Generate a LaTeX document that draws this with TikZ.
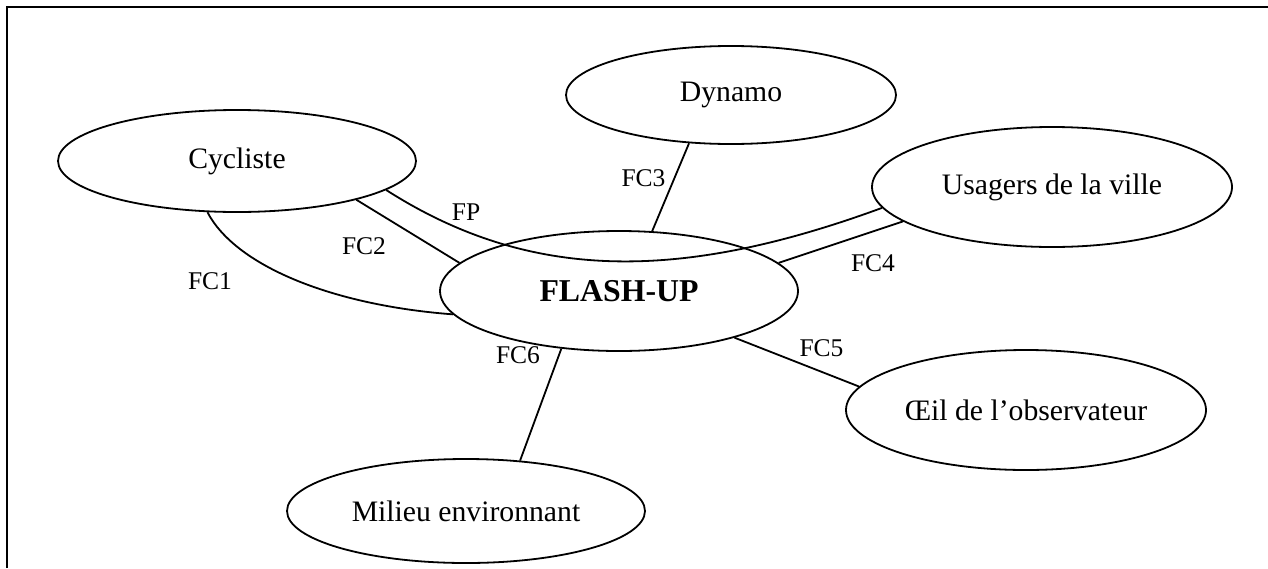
\documentclass[tikz,border=0pt]{standalone}
\usepackage{fontspec}
\setmainfont{Liberation Serif}
\usetikzlibrary{shapes.geometric}
\begin{document}
\begin{tikzpicture}[x=1pt,y=-1pt,
  ell/.style={ellipse, draw, line width=1.8pt, inner sep=0pt, font=\fontsize{29.7}{34}\selectfont},
  lab/.style={inner sep=0pt, font=\fontsize{25.5}{30}\selectfont},
  conn/.style={line width=1.8pt}]
\useasboundingbox (0,0) rectangle (1268,568);
\draw[line width=2pt] (7,568) -- (7,7) -- (1268,7);

\node[ell, minimum width=358pt, minimum height=102pt] (cyc) at (237,161) {Cycliste};
\node[ell, minimum width=330pt, minimum height=98pt] (dyn) at (731,95) {Dynamo};
\node[ell, minimum width=360pt, minimum height=120pt] (usa) at (1052,187) {Usagers de la ville};
\node[ell, minimum width=358pt, minimum height=120pt, font=\fontsize{31.8}{36}\selectfont\bfseries] (fla) at (619,291) {FLASH-UP};
\node[ell, minimum width=360pt, minimum height=120pt] (oeil) at (1026,410) {Œil de l’observateur};
\node[ell, minimum width=358pt, minimum height=104pt] (mil) at (466,511) {Milieu environnant};

\draw[conn] (cyc.-120.5) .. controls (235,265) and (330,305) .. (fla.-172.1);
\draw[conn] (cyc.-18.6) -- (fla.170);
\draw[conn] (cyc.-11.2) .. controls (530,282) and (680,282) .. (usa.-173.4);
\draw[conn] (dyn.-131.9) -- (fla.61.5);
\draw[conn] (fla.10) -- (usa.-167.15);
\draw[conn] (fla.-22.15) -- (oeil.172);
\draw[conn] (fla.-135) -- (mil.43);

\node[lab] (l1) at (210,281) {FC1};
\node[lab] (l2) at (364,246.5) {FC2};
\node[lab] (lp) at (466,212.5) {FP};
\node[lab] (l3) at (643.5,178.5) {FC3};
\node[lab] (l4) at (873,263.5) {FC4};
\node[lab] (l5) at (821.5,348.5) {FC5};
\node[lab] (l6) at (518,355) {FC6};
\end{tikzpicture}
\end{document}
